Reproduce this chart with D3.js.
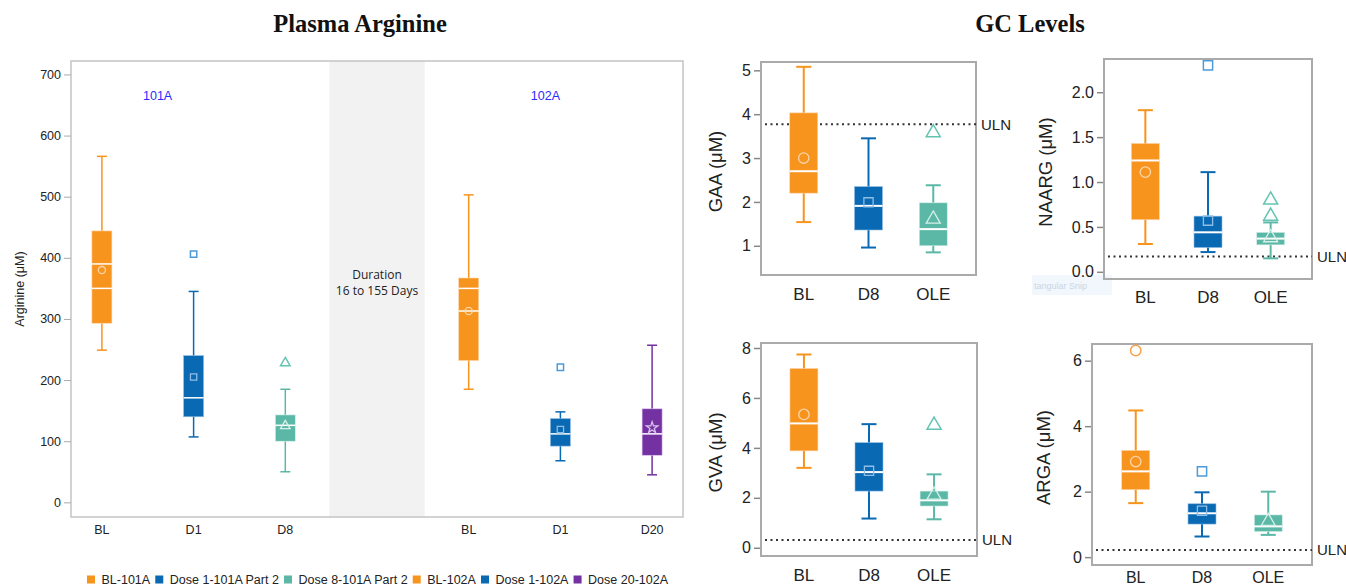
<!DOCTYPE html>
<html lang="en">
<head>
<meta charset="UTF-8">
<title>Plasma Arginine and GC Levels</title>
<script src="https://cdn.jsdelivr.net/npm/d3@7"></script>
<style>
    body{margin:0;background:#fff;}
    text{font-family:"Liberation Sans", Arial, sans-serif;fill:#222;}
    .title{font-family:"Liberation Serif","Times New Roman",serif;font-weight:bold;font-size:24.5px;fill:#111;}
</style>
</head>
<body>
<svg id="main" width="1346" height="587"></svg>
<script>
    // ---- plasma arginine data ----
    let argSlots = ['BL-101A','Dose 1-101A Part 2','Dose 8-101A Part 2','gap','BL-102A','Dose 1-102A','Dose 20-102A'];
    let argGroups = ['BL-101A','Dose 1-101A Part 2','Dose 8-101A Part 2','BL-102A','Dose 1-102A','Dose 20-102A'];
    let argLabels = ['BL','D1','D8','BL','D1','D20'];
    let argMin  = [249, 107,  50, 185,  68,  45];
    let argQ1   = [293, 140, 100, 232,  92,  77];
    let argMed  = [350, 171, 126, 313, 112, 112];
    let argQ3   = [444, 240, 143, 367, 137, 153];
    let argMax  = [566, 345, 185, 503, 148, 257];
    let argMean = [380, 205, 125, 313, 119, 122];
    let argExtra = [[390], [], [], [350], [], []];
    let argOut  = [[], [406], [228], [], [221], []];
    let argTicks = [0,100,200,300,400,500,600,700];

    // ---- GC levels data ----
    let gcCats = ['BL','D8','OLE'];
    let gaaMin = [1.54,0.96,0.85], gaaQ1 = [2.20,1.36,1.00], gaaMed = [2.70,1.91,1.38],
        gaaQ3 = [4.03,2.35,1.98], gaaMax = [5.08,3.45,2.38], gaaMean = [3.00,1.99,1.61],
        gaaOut = [[],[],[3.58]], gaaUln = 3.77, gaaTicks = [1,2,3,4,5];
    let naargMin = [0.31,0.22,0.15], naargQ1 = [0.58,0.27,0.30], naargMed = [1.24,0.44,0.37],
        naargQ3 = [1.43,0.62,0.44], naargMax = [1.80,1.11,0.55], naargMean = [1.11,0.57,0.38],
        naargOut = [[],[2.30],[0.80,0.62]], naargUln = 0.17, naargTicks = [0,0.5,1,1.5,2];
    let gvaMin = [3.20,1.17,1.14], gvaQ1 = [3.88,2.27,1.67], gvaMed = [4.98,3.03,1.90],
        gvaQ3 = [7.18,4.21,2.27], gvaMax = [7.74,4.95,2.94], gvaMean = [5.34,3.08,2.11],
        gvaOut = [[],[],[4.91]], gvaUln = 0.31, gvaTicks = [0,2,4,6,8];
    let argaMin = [1.65,0.63,0.68], argaQ1 = [2.06,1.01,0.78], argaMed = [2.62,1.34,0.94],
        argaQ3 = [3.26,1.63,1.29], argaMax = [4.48,1.98,2.00], argaMean = [2.92,1.42,1.09],
        argaOut = [[6.31],[2.62],[]], argaUln = 0.22, argaTicks = [0,2,4,6];

    // styles
    let colors = {
        orange:{fill:'#f7941e', mean:'#fcd5ab', out:'#f7a24a'},
        blue:{fill:'#0a69b3', mean:'#8fbde6', out:'#4e9ad8'},
        teal:{fill:'#5cb8a6', mean:'#d6f0ea', out:'#63c4b1'},
        purple:{fill:'#7331a1', mean:'#dcc2f0', out:'#9c62c8'}
    };
    let argColor = ['orange','blue','teal','orange','blue','purple'];
    let argShape = ['circle','square','triangle','circle','square','star'];
    let gcColor = ['orange','blue','teal'];
    let gcShape = ['circle','square','triangle'];
    let types = {circle:d3.symbolCircle, square:d3.symbolSquare, triangle:d3.symbolTriangle, star:d3.symbolStar};

    let svg = d3.select('svg#main');

    function stats(mn,q1,md,q3,mx,mean,out,extra){
        return mn.map(function(d,i){
            return {min:d, q1:q1[i], med:md[i], q3:q3[i], max:mx[i], mean:mean[i],
                    out:out[i], extra:extra ? extra[i] : []};
        });
    }

    // one box with whiskers, mean marker and outliers
    function drawBox(g, cx, y, s, c, shape, o){
        let col = colors[c];
        g.append('line').attr('x1',cx).attr('x2',cx).attr('y1',y(s.max)).attr('y2',y(s.min))
            .attr('stroke',col.fill).attr('stroke-width',o.lw);
        [s.max, s.min].forEach(function(v){
            g.append('line').attr('x1',cx-o.cap/2).attr('x2',cx+o.cap/2).attr('y1',y(v)).attr('y2',y(v))
                .attr('stroke',col.fill).attr('stroke-width',o.lw);
        });
        g.append('rect').attr('x',cx-o.w/2).attr('width',o.w)
            .attr('y',y(s.q3)).attr('height',y(s.q1)-y(s.q3))
            .attr('fill',col.fill).attr('stroke',col.mean).attr('stroke-width',0.6);
        [s.med].concat(s.extra).forEach(function(v){
            g.append('line').attr('x1',cx-o.w/2).attr('x2',cx+o.w/2).attr('y1',y(v)).attr('y2',y(v))
                .attr('stroke','#fff').attr('stroke-width',o.lw);
        });
        let sym = d3.symbol().type(types[shape]).size(o.ms);
        g.append('path').attr('d',sym()).attr('transform','translate('+cx+','+y(s.mean)+')')
            .attr('fill','none').attr('stroke',col.mean).attr('stroke-width',1.3);
        s.out.forEach(function(v){
            g.append('path').attr('d',sym()).attr('transform','translate('+cx+','+y(v)+')')
                .attr('fill','none').attr('stroke',col.out).attr('stroke-width',1.5);
        });
    }

    // ================= left: plasma arginine =================
    let L = {x0:71, x1:683, y0:61, y1:517};
    let xA = d3.scalePoint().domain(argSlots).range([L.x0, L.x1]).padding(0.337);
    let yA = d3.scaleLinear().domain([-24, 722]).range([L.y1, L.y0]);
    let left = svg.append('g');

    left.append('rect').attr('x', xA('gap') - xA.step()*0.52).attr('width', xA.step()*1.04)
        .attr('y', L.y0).attr('height', L.y1-L.y0).attr('fill','#f2f2f2');
    left.append('rect').attr('x',L.x0).attr('y',L.y0).attr('width',L.x1-L.x0).attr('height',L.y1-L.y0)
        .attr('fill','none').attr('stroke','#c4c4c4').attr('stroke-width',1.5);

    let yAxisA = left.append('g').attr('transform','translate('+L.x0+',0)')
        .call(d3.axisLeft(yA).tickValues(argTicks).tickSize(7).tickPadding(3));
    yAxisA.select('.domain').remove();
    yAxisA.selectAll('line').attr('stroke','#aaa');
    yAxisA.selectAll('text').style('font-size','12.5px').attr('fill','#333');

    left.append('text').attr('transform','translate(24,'+((L.y0+L.y1)/2)+') rotate(-90)')
        .attr('text-anchor','middle').style('font-size','12.5px').text('Arginine (\u03bcM)');

    let argStats = stats(argMin,argQ1,argMed,argQ3,argMax,argMean,argOut,argExtra);
    argStats.forEach(function(s,i){
        drawBox(left, xA(argGroups[i]), yA, s, argColor[i], argShape[i], {w:20, cap:10, lw:1.5, ms:40});
        left.append('text').attr('x', xA(argGroups[i])).attr('y', L.y1+17)
            .attr('text-anchor','middle').style('font-size','12.5px').text(argLabels[i]);
    });

    // cohort labels
    left.append('text').attr('x', (xA(argGroups[0])+xA(argGroups[2]))/2 - 36).attr('y', 100)
        .attr('text-anchor','middle').style('font-size','12.5px').style('fill','#2b2bff').text('101A');
    left.append('text').attr('x', (xA(argGroups[3])+xA(argGroups[5]))/2 - 15).attr('y', 100)
        .attr('text-anchor','middle').style('font-size','12.5px').style('fill','#2b2bff').text('102A');
    left.append('text').attr('x', xA('gap')).attr('y', 278.5).attr('text-anchor','middle')
        .style('font-size','12px').style('font-family','"Open Sans", sans-serif').text('Duration');
    left.append('text').attr('x', xA('gap')).attr('y', 295).attr('text-anchor','middle')
        .style('font-size','12px').style('font-family','"Open Sans", sans-serif').text('16 to 155 Days');

    // legend
    let leg = svg.append('g');
    let items = leg.selectAll('g').data(argGroups).enter().append('g');
    items.append('rect').attr('width',8).attr('height',8).attr('y',575.5)
        .attr('fill', function(d,i){return colors[argColor[i]].fill;});
    items.append('text').attr('x',14.5).attr('y',584).style('font-size','12.5px').attr('fill','#333')
        .text(function(d){return d;});
    let widths = [];
    items.each(function(){ widths.push(14.5 + d3.select(this).select('text').node().getComputedTextLength()); });
    let legStart = 87, legEnd = 668;
    let gap = (legEnd - legStart - d3.sum(widths)) / (widths.length - 1);
    let cur = legStart;
    items.each(function(d,i){
        d3.select(this).attr('transform','translate('+cur+',0)');
        cur += widths[i] + gap;
    });

    svg.append('text').attr('class','title').attr('x',360).attr('y',31.5).attr('text-anchor','middle').text('Plasma Arginine');
    svg.append('text').attr('class','title').attr('x',1030).attr('y',31.5).attr('text-anchor','middle').text('GC Levels');

    // ================= right: GC panels =================
    let panels = [
        {label:'GAA (\u03bcM)', x0:761, x1:976, y0:62, y1:275, dom:[0.334,5.19], ticks:gaaTicks, fmt:'d',
         st:stats(gaaMin,gaaQ1,gaaMed,gaaQ3,gaaMax,gaaMean,gaaOut), uln:gaaUln, tx:722, lab:25, fs:17},
        {label:'NAARG (\u03bcM)', x0:1104, x1:1312, y0:59, y1:279, dom:[-0.08,2.37], ticks:naargTicks, fmt:'.1f',
         st:stats(naargMin,naargQ1,naargMed,naargQ3,naargMax,naargMean,naargOut), uln:naargUln, tx:1052, lab:24, fs:17},
        {label:'GVA (\u03bcM)', x0:761, x1:977, y0:343, y1:556, dom:[-0.33,8.2], ticks:gvaTicks, fmt:'d',
         st:stats(gvaMin,gvaQ1,gvaMed,gvaQ3,gvaMax,gvaMean,gvaOut), uln:gvaUln, tx:722, lab:24.5, fs:17},
        {label:'ARGA (\u03bcM)', x0:1092, x1:1312, y0:344, y1:565, dom:[-0.24,6.51], ticks:argaTicks, fmt:'d',
         st:stats(argaMin,argaQ1,argaMed,argaQ3,argaMax,argaMean,argaOut), uln:argaUln, tx:1050, lab:17.5, fs:16}
    ];

    // faint leftover snip box under the NAARG panel
    svg.append('rect').attr('x',1032).attr('y',275).attr('width',80).attr('height',20).attr('fill','#f1f7fd');
    svg.append('text').attr('x',1034).attr('y',289).style('font-size','9px').style('fill','#c9d6e3').text('tangular Snip');

    panels.forEach(function(p){
        let g = svg.append('g');
        let x = d3.scalePoint().domain(gcCats).range([p.x0, p.x1]).padding(0.66);
        let y = d3.scaleLinear().domain(p.dom).range([p.y1, p.y0]);

        let ax = g.append('g').attr('transform','translate('+p.x0+',0)')
            .call(d3.axisLeft(y).tickValues(p.ticks).tickFormat(d3.format(p.fmt)).tickSize(7).tickPadding(3));
        ax.select('.domain').remove();
        ax.selectAll('line').attr('stroke','#888').attr('stroke-width',1.5);
        ax.selectAll('text').style('font-size','16px').attr('fill','#222');

        g.append('rect').attr('x',p.x0).attr('y',p.y0).attr('width',p.x1-p.x0).attr('height',p.y1-p.y0)
            .attr('fill','none').attr('stroke','#aaa').attr('stroke-width',2);

        g.append('line').attr('x1',p.x0+4).attr('x2',p.x1).attr('y1',y(p.uln)).attr('y2',y(p.uln))
            .attr('stroke','#333').attr('stroke-width',2).attr('stroke-dasharray','2,3.5');
        g.append('text').attr('x',p.x1+5).attr('y',y(p.uln)).attr('dy','0.36em')
            .style('font-size','15px').text('ULN');

        p.st.forEach(function(s,i){
            drawBox(g, x(gcCats[i]), y, s, gcColor[i], gcShape[i], {w:28, cap:15, lw:2, ms:85});
            g.append('text').attr('x', x(gcCats[i])).attr('y', p.y1+p.lab).attr('text-anchor','middle')
                .style('font-size', p.fs+'px').text(gcCats[i]);
        });

        g.append('text').attr('transform','translate('+p.tx+','+((p.y0+p.y1)/2+3)+') rotate(-90)')
            .attr('text-anchor','middle').style('font-size','18.5px').text(p.label);
    });
</script>
</body>
</html>
